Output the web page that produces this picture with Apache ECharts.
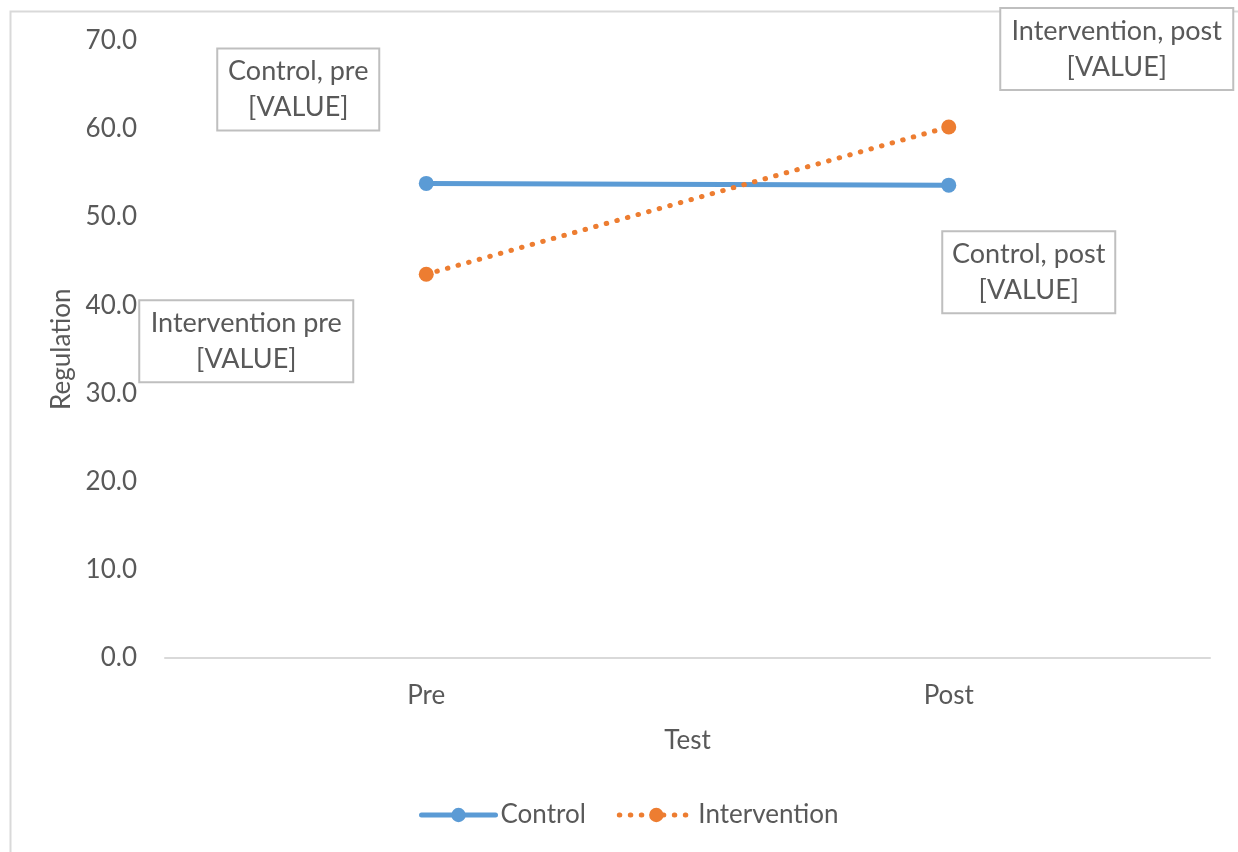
<!DOCTYPE html>
<html>
<head>
<meta charset="utf-8">
<script src="https://cdn.jsdelivr.net/npm/echarts@6/dist/echarts.min.js"></script>
<style>
html,body{margin:0;padding:0;background:#fff;}
#chart{width:1238px;height:852px;}
</style>
</head>
<body>
<div id="chart"></div>
<script>
// ---- data ----
var categories = ['Pre', 'Post'];
var controlValues = [53.8, 53.6];
var interventionValues = [43.5, 60.2];
var controlLabels = ['Control, pre\n[VALUE]', 'Control, post\n[VALUE]'];
var interventionLabels = ['Intervention pre\n[VALUE]', 'Intervention, post\n[VALUE]'];
var seriesNames = ['Control', 'Intervention'];

// ---- label box layout (styles, not data) ----
var controlLabelLayout = [
  {offset: [-128, -94], width: 142},
  {offset: [80, 87], width: 153}
];
var interventionLabelLayout = [
  {offset: [-180, 67], width: 194},
  {offset: [168, -78], width: 213}
];

var FONT = 'Lato';
var TEXT = '#595959';

function buildData(values, labels, layout) {
  return values.map(function (v, i) {
    return {
      value: v,
      label: {
        show: true,
        position: 'inside',
        offset: layout[i].offset,
        width: layout[i].width,
        formatter: labels[i],
        align: 'center',
        verticalAlign: 'middle',
        fontFamily: FONT,
        fontSize: 27,
        lineHeight: 36,
        color: TEXT,
        backgroundColor: '#ffffff',
        borderColor: '#bfbfbf',
        borderWidth: 2,
        padding: [4, 9]
      }
    };
  });
}

var chart = echarts.init(document.getElementById('chart'), null, {renderer: 'canvas'});
chart.setOption({
  animation: false,
  backgroundColor: '#ffffff',
  graphic: [{
    type: 'rect',
    left: 8, top: 9,
    shape: {width: 1300, height: 900},
    style: {fill: 'none', stroke: '#d9d9d9', lineWidth: 2},
    silent: true,
    z: -10
  }],
  grid: {left: 165, right: 28, top: 40.5, bottom: 194, containLabel: false},
  legend: {
    left: 414,
    top: 797,
    itemWidth: 74,
    itemHeight: 18,
    itemGap: 31,
    lineStyle: {width: 5},
    textStyle: {fontFamily: FONT, fontSize: 26, color: TEXT},
    data: seriesNames
  },
  xAxis: {
    type: 'category',
    data: categories,
    boundaryGap: true,
    name: 'Test',
    nameLocation: 'middle',
    nameGap: 70,
    nameTextStyle: {fontFamily: FONT, fontSize: 26, color: TEXT},
    axisLine: {show: true, lineStyle: {color: '#d9d9d9', width: 2}},
    axisTick: {show: false},
    axisLabel: {fontFamily: FONT, fontSize: 26, color: TEXT, margin: 25},
    splitLine: {show: false}
  },
  yAxis: {
    type: 'value',
    min: 0, max: 70, interval: 10,
    name: 'Regulation',
    nameLocation: 'middle',
    nameGap: 89,
    nameRotate: 90,
    nameTextStyle: {fontFamily: FONT, fontSize: 26, color: TEXT},
    axisLine: {show: false},
    axisTick: {show: false},
    splitLine: {show: false},
    axisLabel: {
      fontFamily: FONT, fontSize: 26, color: TEXT, margin: 28,
      formatter: function (v) { return v.toFixed(1); }
    }
  },
  series: [
    {
      name: seriesNames[0],
      type: 'line',
      data: buildData(controlValues, controlLabels, controlLabelLayout),
      symbol: 'circle',
      symbolSize: 15,
      itemStyle: {color: '#5B9BD5'},
      lineStyle: {color: '#5B9BD5', width: 5, cap: 'round'},
      z: 3
    },
    {
      name: seriesNames[1],
      type: 'line',
      data: buildData(interventionValues, interventionLabels, interventionLabelLayout),
      symbol: 'circle',
      symbolSize: 15,
      itemStyle: {color: '#ED7D31'},
      lineStyle: {color: '#ED7D31', width: 5, type: [0.5, 10.5], cap: 'round'},
      z: 4
    }
  ]
});
</script>
</body>
</html>
